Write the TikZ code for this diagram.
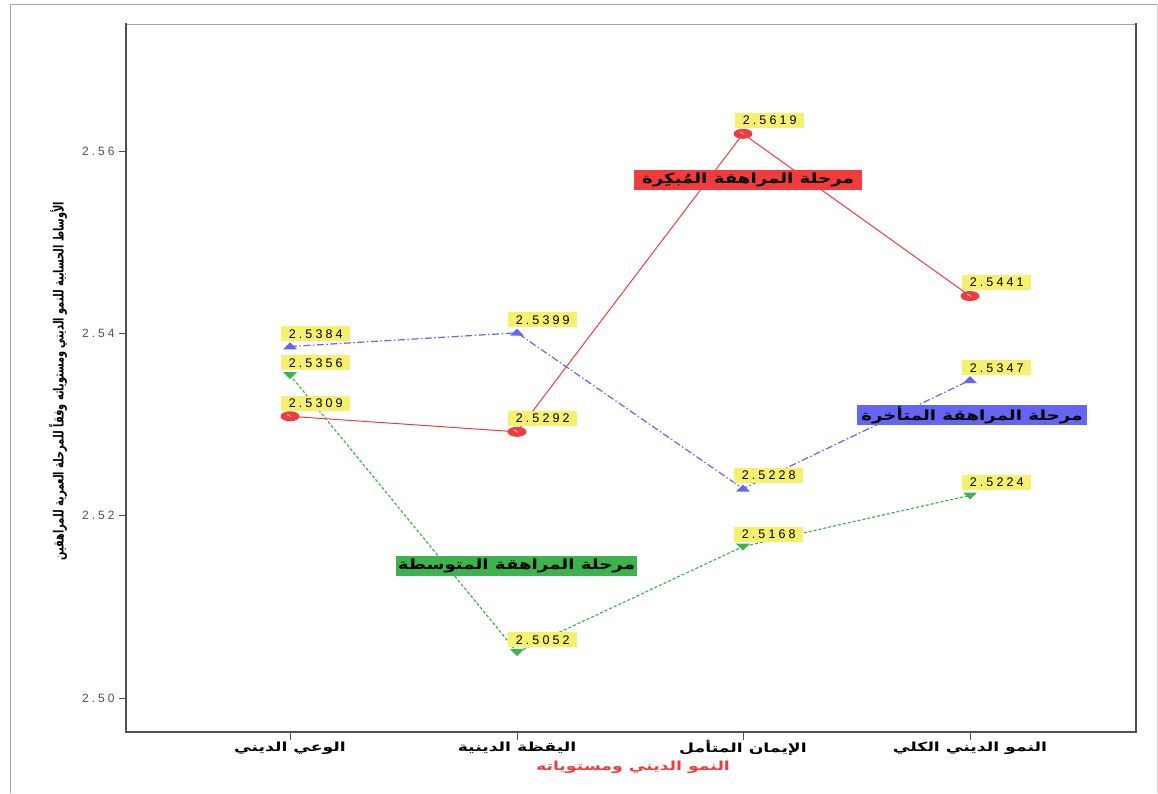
\documentclass[tikz,border=0pt]{standalone}
\usepackage{fontspec}
\setmainfont{Liberation Sans}
\TeXXeTstate=1
\newfontfamily\arabicfont[Script=Arabic]{DejaVu Sans}
\newfontfamily\arabicwide[Script=Arabic,FakeStretch=1.38]{DejaVu Sans}
\newfontfamily\arabiclegend[Script=Arabic,FakeStretch=1.3]{DejaVu Sans}
\newfontfamily\arabicnarrow[Script=Arabic,FakeStretch=0.7]{DejaVu Sans}
\newfontfamily\numfont[LetterSpace=25]{Liberation Sans}
\usetikzlibrary{shapes.geometric,calc}
\definecolor{cred}{HTML}{F03C3C}
\definecolor{cblue}{HTML}{6464F5}
\definecolor{cgreen}{HTML}{3CB44B}
\definecolor{cyel}{HTML}{F5F06E}
\definecolor{cframe}{HTML}{505050}
\pgfdeclarelayer{bg}
\pgfsetlayers{bg,main}
\tikzset{
  vallab/.style={fill=cyel, anchor=south west, inner sep=1pt, minimum width=69pt, minimum height=15pt, font=\numfont\fontsize{12.5}{13}\selectfont},
  leglab/.style={draw=none, inner sep=1pt, minimum height=20pt, font=\arabiclegend\bfseries\fontsize{14}{15}\selectfont},
  redline/.style={cred, line width=1pt},
  blueline/.style={cblue, line width=1.2pt, dash pattern=on 7pt off 2.5pt on 1.5pt off 2.5pt},
  greenline/.style={cgreen, line width=1.2pt, dash pattern=on 3pt off 2pt},
  redmark/.style={ellipse, fill=cred, minimum width=19pt, minimum height=10pt, inner sep=0pt},
  bluemark/.style={isosceles triangle, shape border rotate=90, isosceles triangle stretches, fill=cblue, minimum width=14pt, minimum height=7pt, inner sep=0pt},
  greenmark/.style={isosceles triangle, shape border rotate=-90, isosceles triangle stretches, fill=cgreen, minimum width=14pt, minimum height=7pt, inner sep=0pt},
  xlab/.style={font=\arabicwide\bfseries\fontsize{12.5}{13}\selectfont},
  ylab/.style={anchor=east, text=cframe, font=\numfont\fontsize{12}{13}\selectfont},
}
\begin{document}
\begin{tikzpicture}[x=1pt,y=-1pt]
\useasboundingbox (0,0) rectangle (1158,793);
% outer frame
\draw[gray!70, line width=0.8pt] (10,4) -- (1157,4);
\draw[gray!70, line width=0.8pt] (10,4) -- (10,793);
\draw[gray!40, line width=0.8pt] (1157,4) -- (1157,793);
% plot frame
\draw[gray!70, line width=1pt] (126,24) -- (1136,24);
\draw[cframe, line width=2pt] (126,23) -- (126,733);
\draw[cframe, line width=1.6pt] (125,732) -- (1136,732) -- (1136,23);
% y ticks
\foreach \v/\yy in {2.56/151,2.54/333.3,2.52/515.7,2.50/698}{
  \draw[cframe, line width=0.8pt] (119,\yy) -- (126,\yy);
  \node[ylab] (yt\v) at (118,\yy) {\v};
}
% x ticks
\foreach \xx in {290,517,743,970}{
  \draw[cframe, line width=0.8pt] (\xx,732) -- (\xx,740);
}
\node[xlab] (x1) at (290,748) {\beginR الوعي الديني\endR};
\node[xlab] (x2) at (517,748) {\beginR اليقظة الدينية\endR};
\node[xlab] (x3) at (743,748) {\beginR الإيمان المتأمل\endR};
\node[xlab] (x4) at (970,748) {\beginR النمو الديني الكلي\endR};
\node[font=\arabicwide\bfseries\fontsize{12.5}{13}\selectfont, text=cred] (xtitle) at (633,767) {\beginR النمو الديني ومستوياته\endR};
\node[rotate=90, font=\arabicnarrow\bfseries\fontsize{14}{15}\selectfont] (ytitle) at (58,381) {\beginR الأوساط الحسابية للنمو الديني ومستوياته وفقاً للمرحلة العمرية للمراهقين\endR};
% markers
\node[redmark] (r1) at (290,416.3) {};
\node[redmark] (r2) at (517,431.8) {};
\node[redmark] (r3) at (743,133.8) {};
\node[redmark] (r4) at (970,296.0) {};
\node[bluemark] (b1) at (290,346.5) {};
\node[bluemark] (b2) at (517,332.8) {};
\node[bluemark] (b3) at (743,488.7) {};
\node[bluemark] (b4) at (970,380.2) {};
\node[greenmark] (g1) at (290,375.0) {};
\node[greenmark] (g2) at (517,652.1) {};
\node[greenmark] (g3) at (743,546.5) {};
\node[greenmark] (g4) at (970,495.4) {};
\foreach \n in {r1,r2,r3,r4}{\draw[white, line width=0.6pt] ($(\n.center)+(-3,-2)$) -- ++(4,2.5);}
% lines
\begin{pgfonlayer}{bg}
\draw[redline] (r1.center) -- (r2.center) -- (r3.center) -- (r4.center);
\draw[blueline] (b1.center) -- (b2.center) -- (b3.center) -- (b4.center);
\draw[greenline] (g1.center) -- (g2.center) -- (g3.center) -- (g4.center);
\end{pgfonlayer}
% value labels
\node[vallab] (lr1) at (281,411) {2.5309};
\node[vallab] (lr2) at (508,426) {2.5292};
\node[vallab] (lr3) at (735,128) {2.5619};
\node[vallab] (lr4) at (962,290) {2.5441};
\node[vallab] (lb1) at (281,341.5) {2.5384};
\node[vallab] (lb2) at (508,327.5) {2.5399};
\node[vallab] (lb3) at (734,483) {2.5228};
\node[vallab] (lb4) at (962,375.5) {2.5347};
\node[vallab] (lg1) at (281,370.5) {2.5356};
\node[vallab] (lg2) at (508,647.5) {2.5052};
\node[vallab] (lg3) at (734,542) {2.5168};
\node[vallab] (lg4) at (962,490) {2.5224};
% legend labels
\node[leglab, fill=cred, minimum width=228pt] (lred) at (748,180) {\beginR مرحلة المراهقة المُبكِرة\endR};
\node[leglab, fill=cblue, minimum width=230pt] (lblue) at (972,415) {\beginR مرحلة المراهقة المتأخرة\endR};
\node[leglab, fill=cgreen, minimum width=241pt] (lgreen) at (516.5,566) {\beginR مرحلة المراهقة المتوسطة\endR};
\end{tikzpicture}
\end{document}
